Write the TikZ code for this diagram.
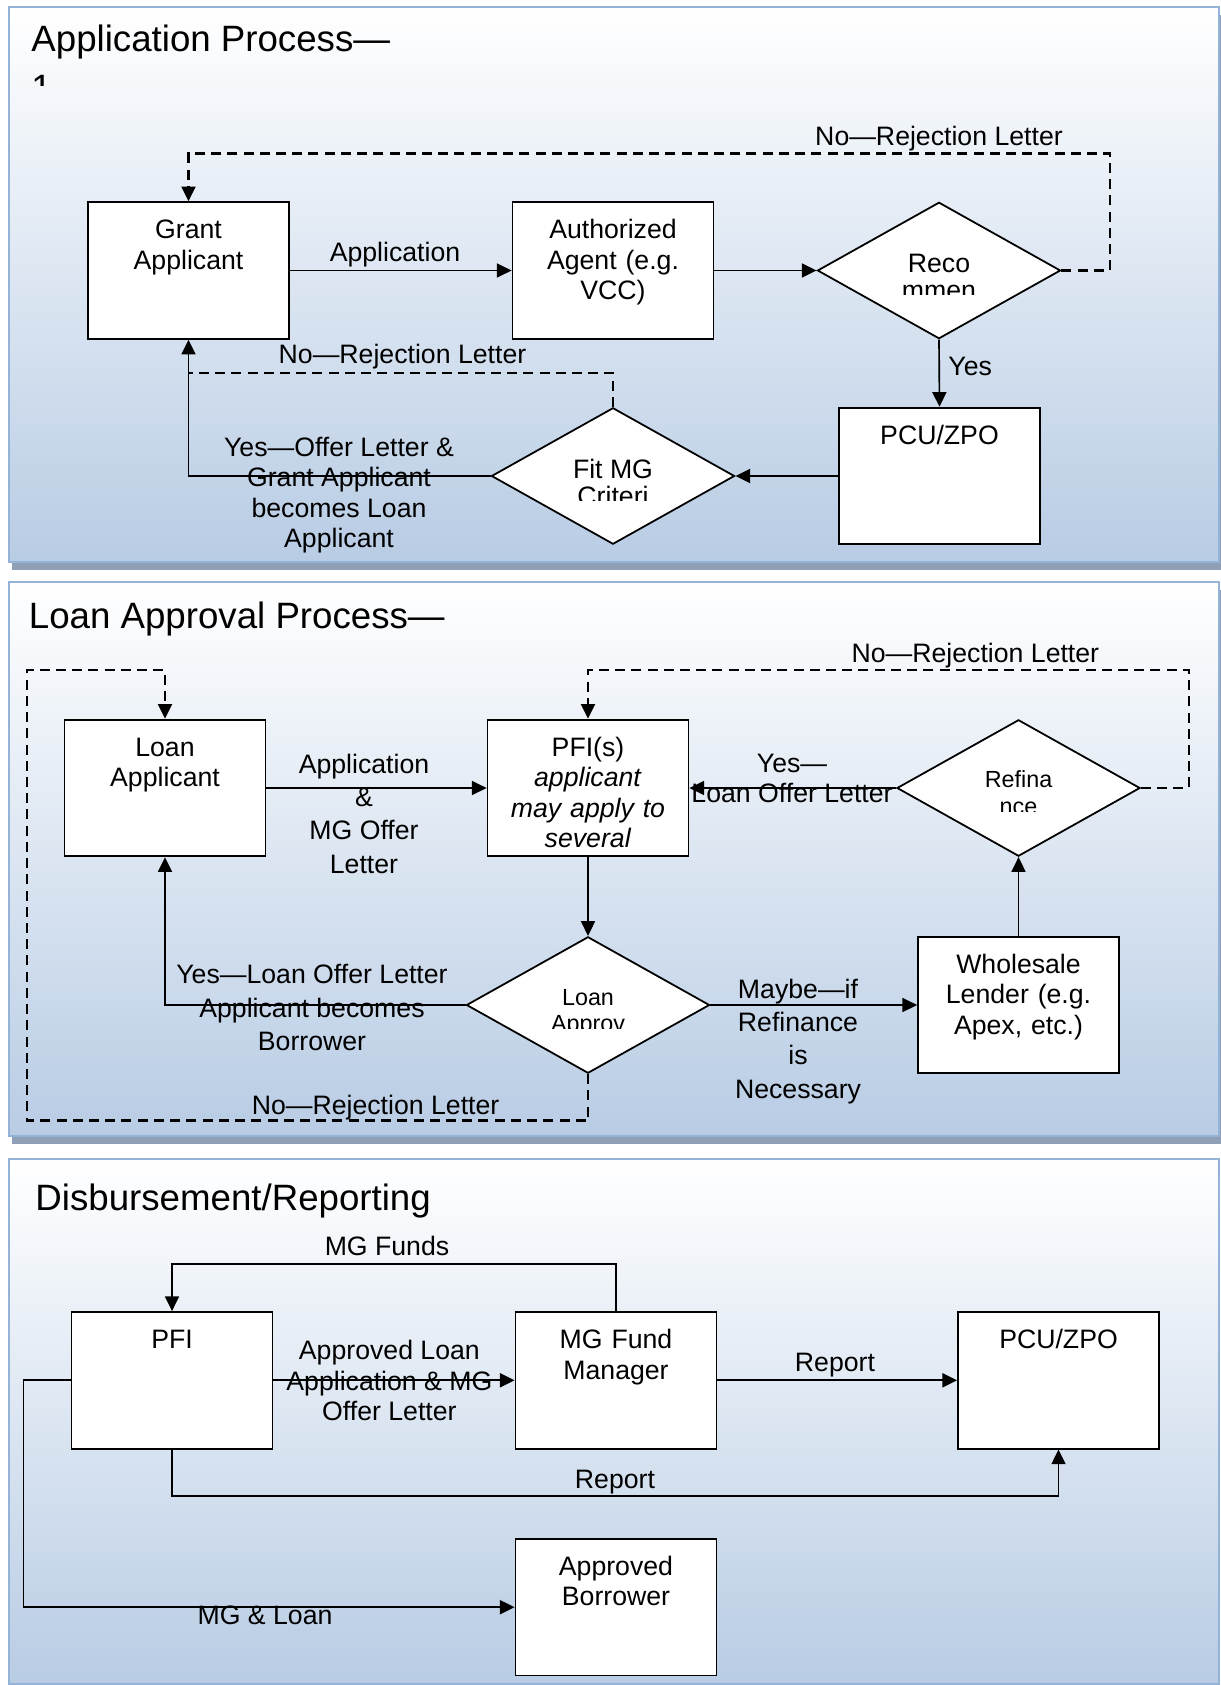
\documentclass[tikz,border=0pt]{standalone}
\usepackage{fontspec}
\setmainfont{Liberation Sans}
\usetikzlibrary{shapes.geometric,arrows.meta,calc}
\definecolor{panelline}{RGB}{149,179,215}
\definecolor{panelfill}{RGB}{184,204,228}
\definecolor{panelshadow}{RGB}{143,160,182}

\begin{document}
\begin{tikzpicture}[x=0.45pt, y=-0.45pt,
    panel/.style ={draw=panelline, line width=0.9pt, top color=white, bottom color=panelfill},
    process/.style ={rectangle, draw, line width=0.8pt, fill=white, inner sep=0pt, text width=90.45pt,
      align=center, text height=16.5pt, text depth=45pt, font=\fontsize{12}{13.7}\selectfont},
    decision/.style ={diamond, draw, line width=0.8pt, fill=white, inner sep=0pt,
      minimum width=109.4pt, minimum height=61.4pt},
    decisiontext/.style ={align=center, inner sep=0pt, anchor=north, font=\fontsize{12}{12.2}\selectfont},
    smalltext/.style ={decisiontext, font=\fontsize{10.5}{11.9}\selectfont},
    flowlabel/.style ={align=center, inner sep=0pt, font=\fontsize{12}{13.6}\selectfont},
    widelabel/.style ={flowlabel, font=\fontsize{12}{15}\selectfont},
    heading/.style ={inner sep=0pt, font=\fontsize{16.5}{22.3}\selectfont},
    flow/.style ={line width=0.75pt, -{Triangle[length=6.6pt, width=6.3pt]}},
    reject/.style ={flow, line width=0.95pt, dash pattern=on 4.5pt off 2.8pt},
    rejectline/.style ={line width=0.95pt, dash pattern=on 4.5pt off 2.8pt}]
   \useasboundingbox (0,0) rectangle (1221,1685);
   \fill[panelshadow] (11.5,15) rectangle (1222,569.5);
   \draw[panel] (8.5,7.5) rectangle (1219,562);
   \fill[panelshadow] (11.5,590) rectangle (1222,1144);
   \draw[panel] (8.5,582) rectangle (1219,1136);
   \draw[panel] (8.5,1159) rectangle (1219,1684);

   \begin{scope}
     \clip (8.5,7.5) rectangle (700,86);
     \node[heading, anchor=north west, align=left] (title1) at (31,24.3) {Application Process—\\1};
   \end{scope}
   \node[heading, anchor=base west] (title2) at (28.5,628.7) {Loan Approval Process—};
   \node[heading, anchor=base west] (title3) at (35,1210.2) {Disbursement/Reporting};

   \node[process] (grant) at (188.5,270.5) {Grant\\Applicant};
   \node[process] (agent) at (613,270.5) {Authorized\\Agent (e.g.\\VCC)};
   \node[decision] (reco) at (939,270.5) {};
   \node[process] (pcuA) at (939.5,476) {PCU/ZPO};
   \node[decision] (fit) at (613,476) {};
   \begin{scope}
     \clip (reco.center) ++(-60,-40) rectangle ++(120,63.5);
     \node[decisiontext] (recotext) at ($(reco.center)+(0,-16.5)$) {Reco\\mmen};
   \end{scope}
   \begin{scope}
     \clip (fit.center) ++(-60,-40) rectangle ++(120,64);
     \node[decisiontext] (fittext) at ($(fit.center)+(0,-17)$) {Fit MG\\Criteri};
   \end{scope}

   \draw[flow] (grant.east) -- (agent.west);
   \draw[flow] (agent.east) -- (reco.west);
   \draw[flow] (reco.south) -- (pcuA.north);
   \draw[flow] (pcuA.west) -- (fit.east);
   \draw[flow] (fit.west) -| (grant.south);
   \coordinate (recoturn) at (1110,153.5);
   \draw[reject] (reco.east) -| (recoturn) -| (grant.north);
   \coordinate (fitjoin) at (188.5,373);
   \draw[rejectline] (fit.north) |- (fitjoin);

   \node[flowlabel, anchor=base] (applbl) at (395,261.6) {Application};
   \node[flowlabel, anchor=base] (rejlblA) at (939,145.6) {No—Rejection Letter};
   \node[flowlabel, anchor=base west] (yeslbl) at (948,375.1) {Yes};
   \node[flowlabel, anchor=base] (rejlblB) at (402.5,363.1) {No—Rejection Letter};
   \node[flowlabel, anchor=north] (offerlbl) at (339,437) {Yes—Offer Letter \&\\Grant Applicant\\becomes Loan\\Applicant};

   \node[process] (lapp) at (165,788) {Loan\\Applicant};
   \node[process] (pfis) at (588,788) {PFI(s)\\\textit{applicant}\\\textit{may apply to}\\\textit{several}};
   \node[decision] (refi) at (1018.5,788) {};
   \node[process] (whole) at (1018.5,1005) {Wholesale\\Lender (e.g.\\Apex, etc.)};
   \node[decision] (appr) at (588,1005) {};
   \begin{scope}
     \clip (refi.center) ++(-60,-40) rectangle ++(120,63.5);
     \node[smalltext] (refitext) at ($(refi.center)+(0,-17.5)$) {Refina\\nce};
   \end{scope}
   \begin{scope}
     \clip (appr.center) ++(-60,-40) rectangle ++(120,63.5);
     \node[smalltext] (apprtext) at ($(appr.center)+(0,-16.5)$) {Loan\\Approv};
   \end{scope}

   \draw[flow] (lapp.east) -- (pfis.west);
   \draw[flow] (pfis.south) -- (appr.north);
   \draw[flow] (appr.east) -- (whole.west);
   \draw[flow] (whole.north) -- (refi.south);
   \draw[flow] (refi.west) -- (pfis.east);
   \draw[flow] (appr.west) -| (lapp.south);
   \coordinate (refiturn) at (1189,670);
   \draw[reject] (refi.east) -| (refiturn) -| (pfis.north);
   \coordinate (apprturn) at (27,1120.5);
   \coordinate (apprtop) at (27,670);
   \draw[reject] (appr.south) |- (apprturn) -- (apprtop) -| (lapp.north);

   \node[widelabel, anchor=north] (applbl2) at (364,753.5) {Application\\\&\\MG Offer\\Letter};
   \node[flowlabel, anchor=north] (loanofferlbl) at (792,753.5) {Yes—\\Loan Offer Letter};
   \node[flowlabel, anchor=base] (rejlblC) at (975.4,662.1) {No—Rejection Letter};
   \node[widelabel, anchor=north] (borrowlbl) at (312,964) {Yes—Loan Offer Letter\\Applicant becomes\\Borrower};
   \node[widelabel, anchor=north] (maybelbl) at (798,978.4) {Maybe—if\\Refinance\\is\\Necessary};
   \node[flowlabel, anchor=base] (rejlblD) at (375.6,1114.2) {No—Rejection Letter};

   \node[process] (pfi) at (172,1380.3) {PFI};
   \node[process] (mgfm) at (616,1380.3) {MG Fund\\Manager};
   \node[process] (pcuB) at (1058.5,1380.3) {PCU/ZPO};
   \node[process] (bor) at (616,1607.2) {Approved\\Borrower};

   \coordinate (fundsturn) at (616,1264);
   \draw[flow] (mgfm.north) -- (fundsturn) -| (pfi.north);
   \draw[flow] (pfi.east) -- (mgfm.west);
   \draw[flow] (mgfm.east) -- (pcuB.west);
   \coordinate (reportturn) at (172,1496);
   \draw[flow] (pfi.south) -- (reportturn) -| (pcuB.south);
   \coordinate (loanturn) at (23.4,1380.3);
   \draw[flow] (pfi.west) -- (loanturn) |- (bor.west);

   \node[flowlabel, anchor=base] (fundslbl) at (387,1255.6) {MG Funds};
   \node[flowlabel, anchor=north] (approvedlbl) at (389.4,1340) {Approved Loan\\Application \& MG\\Offer Letter};
   \node[flowlabel, anchor=base] (reportlblA) at (835,1371) {Report};
   \node[flowlabel, anchor=base] (reportlblB) at (615,1488.6) {Report};
   \node[flowlabel, anchor=base] (mgloanlbl) at (265,1624.1) {MG \& Loan};
 \end{tikzpicture}
\end{document}
